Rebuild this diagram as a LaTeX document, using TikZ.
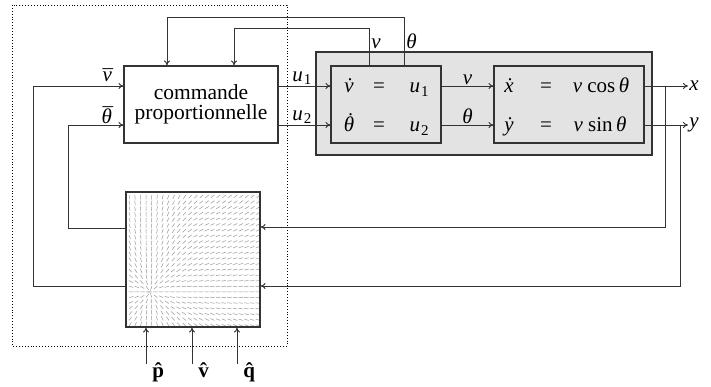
\documentclass[tikz,border=0pt]{standalone}
\usepackage{fontspec}
\setmainfont{Liberation Serif}
\usetikzlibrary{arrows.meta}
\newcommand\iv{\textit{v}}
\newcommand\itht{\textit{θ}}
\newcommand\isub[2]{\textit{#1}\kern1pt\raisebox{-3.5pt}{\fontsize{15}{15}\selectfont #2}}
% accent over a letter: #1 letter, #2 accent glyph, #3 horizontal shift, #4 raise
\newcommand\acc[4]{\ooalign{#1\cr\hidewidth\kern#3\raisebox{#4}{#2}\hidewidth\cr}}
\begin{document}
\begin{tikzpicture}[x=1pt,y=-1pt,
  line width=0.8pt,
  >={To[length=5pt,width=6pt]},
  blk/.style={draw=black!80,line width=1.2pt,fill=white,inner sep=0pt},
  gblk/.style={draw=black!80,line width=1.2pt,fill=black!11,inner sep=0pt},
  conn/.style={draw=black!80,line width=0.9pt},
  lbl/.style={font=\fontsize{21}{24}\selectfont,inner sep=1pt},
  eq/.style={font=\fontsize{21}{24}\selectfont,inner sep=0pt}]
\useasboundingbox (0,0) rectangle (711,387);
% dotted frame
\draw[dotted,line width=0.9pt] (12,5) rectangle (287,346);
% big grey box
\node[gblk,line width=2.6pt,minimum width=336pt,minimum height=103pt] (sys) at (484,103.5) {};
\node[blk,minimum width=154pt,minimum height=77pt,
      font=\fontsize{21.5}{20}\selectfont,align=center] (cmd) at (201,104.5)
      {commande\\proportionnelle};
\node[gblk,minimum width=110pt,minimum height=77pt] (b1) at (386,104.5) {};
\node[gblk,minimum width=150pt,minimum height=77pt] (b2) at (569,104.5) {};
% equations
\node[eq,anchor=base] (e1a) at (349,93) {\acc{\iv}{˙}{2pt}{0pt}};
\node[eq,anchor=base] (e1b) at (379,93) {=};
\node[eq,anchor=base] (e1c) at (419,93) {\isub{u}{1}};
\node[eq,anchor=base] (e2a) at (349,132) {\acc{\itht}{˙}{3pt}{4pt}};
\node[eq,anchor=base] (e2b) at (379,132) {=};
\node[eq,anchor=base] (e2c) at (419,132) {\isub{u}{2}};
\node[eq,anchor=base] (e3a) at (509,93) {\acc{\textit{x}}{˙}{2pt}{0pt}};
\node[eq,anchor=base] (e3b) at (546,93) {=};
\node[eq,anchor=base] (e3c) at (601,93) {\iv\ cos\,\itht};
\node[eq,anchor=base] (e4a) at (509,132) {\acc{\textit{y}}{˙}{2pt}{0pt}};
\node[eq,anchor=base] (e4b) at (546,132) {=};
\node[eq,anchor=base] (e4c) at (600,132) {\iv\ sin\,\itht};
% field box
\node[blk,minimum width=134pt,minimum height=135pt] (fld) at (193,259.5) {};
\begin{scope}
\clip (127,193) rectangle (259,326);
\foreach \i in {0,...,23}{
 \foreach \j in {0,...,23}{
  \pgfmathsetmacro\px{129+5.7*\i}
  \pgfmathsetmacro\py{195+5.7*\j}
  \pgfmathsetmacro\dx{150-\px}
  \pgfmathsetmacro\dy{292-\py}
  \pgfmathsetmacro\ang{atan2(\dy,\dx)+25*exp(-(((\px-205)/40)^2+((\py-215)/40)^2))}
  \draw[black!40,line width=0.5pt] (\px,\py) -- ++({4.5*cos(\ang)},{4.5*sin(\ang)});
 }}
\end{scope}
\node[blk,fill=none,minimum width=134pt,minimum height=135pt] (fld2) at (193,259.5) {};
% row coordinates
\coordinate (r1) at (0,86);
\coordinate (r2) at (0,125);
% u1 u2
\draw[conn,->] (cmd.east |- r1) -- node[lbl,above,pos=0.45] {\isub{u}{1}} (b1.west |- r1);
\draw[conn,->] (cmd.east |- r2) -- node[lbl,above,pos=0.45] {\isub{u}{2}} (b1.west |- r2);
% v theta
\draw[conn,->] (b1.east |- r1) -- node[lbl,above] {\iv} (b2.west |- r1);
\draw[conn,->] (b1.east |- r2) -- node[lbl,above] {\itht} (b2.west |- r2);
% outputs
\coordinate (xo) at (688,86);
\coordinate (yo) at (688,125);
\draw[conn,->] (b2.east |- r1) -- (xo) node[lbl,right] {\textit{x}};
\draw[conn,->] (b2.east |- r2) -- (yo) node[lbl,right] {\textit{y}};
% feedback to field
\coordinate (fx) at (665,86);
\coordinate (fy) at (680,125);
\draw[conn,->] (fx) |- (fld.east |- 0,227);
\draw[conn,->] (fy) |- (fld.east |- 0,286);
% field outputs to command
\coordinate (lv) at (33,86);
\coordinate (lt) at (68,125);
\draw[conn,->] (fld.west |- 0,286) -| (lv) -- (cmd.west |- r1);
\draw[conn,->] (fld.west |- 0,228) -| (lt) -- (cmd.west |- r2);
\node[lbl,above left,xshift=-10pt] (vb) at (cmd.west |- r1) {\acc{\iv}{¯}{1pt}{-3pt}};
\node[lbl,above left,xshift=-10pt] (tb) at (cmd.west |- r2) {\acc{\itht}{¯}{2pt}{1pt}};
% top feedback from box 1
\coordinate (tv) at (369,28);
\coordinate (tt) at (404,17);
\draw[conn,->] (b1.north -| tv) -- (tv) -- (234,28) -- (cmd.north -| 234,0);
\draw[conn,->] (b1.north -| tt) -- (tt) -- (167,17) -- (cmd.north -| 167,0);
\node[lbl,anchor=south west] (lvv) at (370,50) {\iv};
\node[lbl,anchor=south west] (ltt) at (405,50) {\itht};
% bottom inputs
\foreach \xx/\nm in {146/p,192/v,237/q}{
  \coordinate (in\nm) at (\xx,364);
  \draw[conn,->] (in\nm) -- (fld.south -| in\nm);
  \node[lbl,anchor=base west] (lab\nm) at (\xx+5,377) {\acc{\textbf{\nm}}{\textbf{ˆ}}{0pt}{0pt}};
}
\end{tikzpicture}
\end{document}
